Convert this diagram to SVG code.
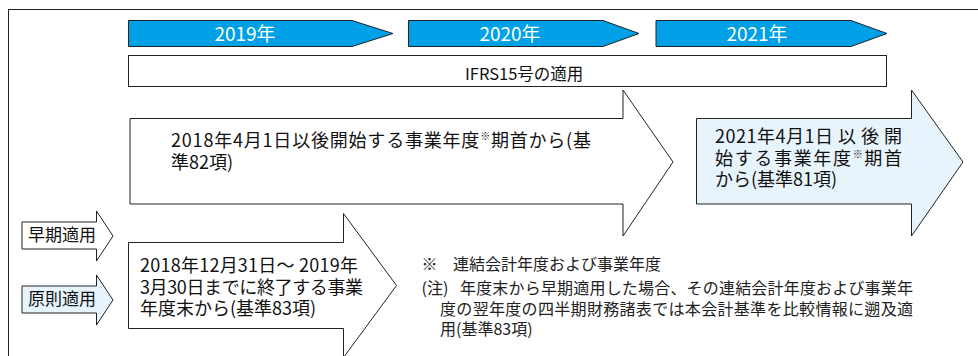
<svg xmlns="http://www.w3.org/2000/svg" width="978" height="356" viewBox="0 0 978 356">
<style>
.t{font-family:"Noto Sans CJK JP","Noto Sans",sans-serif;fill:#111}
.s{stroke:#222;stroke-width:1;stroke-linejoin:miter}
.year{fill:#00a0e6}
.wh{fill:#fff}
.lb{fill:#e8f4fc}
.yt{font-family:"Noto Sans CJK JP","Noto Sans",sans-serif;fill:#fff;font-size:19px;text-anchor:middle}
.m{font-size:18px}
.sm{font-size:17px}
.fn{font-size:16px;fill:#222}
.sup{font-size:10px}
</style>
<rect id="frame" x="8.5" y="9.5" width="1000" height="400" fill="#fff" class="s"/>
<g id="y2019">
<polygon class="s year" points="128.5,20.5 352,20.5 393,33.5 352,46.5 128.5,46.5"/>
<text class="yt" x="245" y="41">2019年</text>
</g>
<g id="y2020">
<polygon class="s year" points="408.5,20.5 603,20.5 639,33.5 603,46.5 408.5,46.5"/>
<text class="yt" x="510" y="41">2020年</text>
</g>
<g id="y2021">
<polygon class="s year" points="656,20.5 851,20.5 887,33.5 851,46.5 656,46.5"/>
<text class="yt" x="757" y="41">2021年</text>
</g>
<g id="ifrs">
<rect class="s wh" x="128.5" y="55.5" width="758" height="31"/>
<text class="t" x="465" y="80" font-size="16.5px">IFRS15号の適用</text>
</g>
<g id="arrow-early">
<polygon class="s wh" points="130,118.5 623,118.5 623,90 673,162 623,236 623,204 130,204"/>
<text class="t m"><tspan x="171" y="146.5" textLength="420" lengthAdjust="spacing">2018年4月1日以後開始する事業年度<tspan class="sup" dy="-7">※</tspan><tspan dy="7">期首から(基</tspan></tspan><tspan x="171" y="168.5">準82項)</tspan></text>
</g>
<g id="arrow-principle">
<polygon class="s lb" points="696.5,118.5 911.5,118.5 911.5,90 963,162 911.5,236 911.5,204 696.5,204"/>
<text class="t m"><tspan x="715" y="143" textLength="187" lengthAdjust="spacing">2021年4月1日 以 後 開</tspan><tspan x="715" y="164.5" textLength="187" lengthAdjust="spacing">始する事業年度<tspan class="sup" dy="-7">※</tspan><tspan dy="7">期首</tspan></tspan><tspan x="715" y="186">から(基準81項)</tspan></text>
</g>
<g id="arrow-yearend">
<polygon class="s wh" points="128.5,242.5 343.5,242.5 343.5,213.5 396.5,285.5 343.5,357.5 343.5,328.5 128.5,328.5"/>
<text class="t m"><tspan x="140" y="271.5" textLength="218" lengthAdjust="spacing">2018年12月31日～ 2019年</tspan><tspan x="140" y="293.5" textLength="223" lengthAdjust="spacing">3月30日までに終了する事業</tspan><tspan x="140" y="315">年度末から(基準83項)</tspan></text>
</g>
<g id="label-early">
<polygon class="s wh" points="22,222 96.5,222 96.5,211 113,236 96.5,261 96.5,249 22,249"/>
<text class="t sm" x="28" y="241">早期適用</text>
</g>
<g id="label-principle">
<polygon class="s lb" points="22,286 96.5,286 96.5,275 113,300 96.5,325 96.5,313 22,313"/>
<text class="t sm" x="28" y="305">原則適用</text>
</g>
<g id="notes">
<text class="t fn"><tspan x="421.5" y="270">※</tspan><tspan x="453" y="270">連結会計年度および事業年度</tspan><tspan x="421.5" y="293.5">(注)</tspan><tspan x="460" y="293.5" textLength="453" lengthAdjust="spacing">年度末から早期適用した場合、その連結会計年度および事業年</tspan><tspan x="440" y="315" textLength="473" lengthAdjust="spacing">度の翌年度の四半期財務諸表では本会計基準を比較情報に遡及適</tspan><tspan x="440" y="335">用(基準83項)</tspan></text>
</g>
</svg>
